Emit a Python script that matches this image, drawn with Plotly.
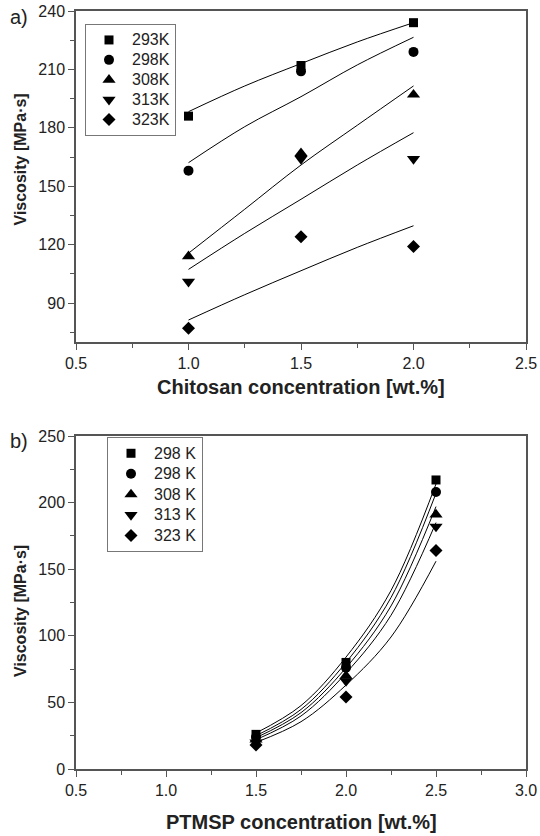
import plotly.graph_objects as go

# ---------------- data: panel a (chitosan) ----------------
conc_a = [1.0, 1.5, 2.0]
labels_a = ["293K", "298K", "308K", "313K", "323K"]
visc_a = [
    [186, 212, 234],
    [158, 209, 219],
    [114, 167, 197],
    [101, 164, 164],
    [77, 124, 119],
]
fit_x_a = [1.0, 1.25, 1.5, 1.75, 2.0]
fit_a = [
    [188.3, 201.5, 213.0, 224.1, 234.0],
    [162.1, 180.6, 196.0, 212.3, 226.5],
    [115.6, 138.2, 160.9, 181.3, 201.5],
    [107.3, 125.8, 143.3, 160.9, 177.5],
    [81.3, 94.3, 106.6, 118.6, 129.7],
]

# ---------------- data: panel b (PTMSP) ----------------
conc_b = [1.5, 2.0, 2.5]
labels_b = ["298 K", "298 K", "308 K", "313 K", "323 K"]
visc_b = [
    [26, 80, 217],
    [24, 76, 208],
    [22, 70, 191],
    [20, 66, 182],
    [18, 54, 164],
]
fit_x_b = [1.5, 1.75, 2.0, 2.25, 2.5]
fit_b = [
    [27.0, 47.6, 84.0, 134.0, 214.0],
    [25.0, 44.7, 80.0, 128.7, 207.0],
    [23.5, 42.3, 76.0, 122.4, 197.0],
    [22.0, 39.8, 72.0, 115.4, 185.0],
    [20.0, 35.5, 63.0, 99.1, 156.0],
]

symbols = ["square", "circle", "triangle-up", "triangle-down", "diamond"]
sizes = [9, 10, 11.5, 11.5, 10]

FONT = "Liberation Sans, Arial, sans-serif"
AX = "#555555"
TXT = "#222222"

fig = go.Figure()

for i in range(5):
    fig.add_trace(go.Scatter(x=fit_x_a, y=fit_a[i], mode="lines", line=dict(color="black", width=1, shape="spline"),
                             showlegend=False, xaxis="x", yaxis="y", hoverinfo="skip"))
    fig.add_trace(go.Scatter(x=fit_x_b, y=fit_b[i], mode="lines", line=dict(color="black", width=1, shape="spline"),
                             showlegend=False, xaxis="x2", yaxis="y2", hoverinfo="skip"))

def leg(t):
    return '<span style="font-size:16px">%s</span>' % t

for i in range(5):
    fig.add_trace(go.Scatter(x=conc_a, y=visc_a[i], mode="markers", name=leg(labels_a[i]),
                             marker=dict(symbol=symbols[i], size=sizes[i], color="black"),
                             xaxis="x", yaxis="y", legend="legend"))
for i in range(5):
    fig.add_trace(go.Scatter(x=conc_b, y=visc_b[i], mode="markers", name=leg(labels_b[i]),
                             marker=dict(symbol=symbols[i], size=sizes[i], color="black"),
                             xaxis="x2", yaxis="y2", legend="legend2"))

xd = [76 / 540, 526 / 540]
ax_common = dict(showline=True, linecolor=AX, linewidth=1.5, mirror=True, showgrid=False, zeroline=False,
                 ticks="outside", ticklen=6, tickwidth=1.2, tickcolor=AX, automargin=False,
                 tickfont=dict(family=FONT, size=16, color=TXT))

fig.update_layout(
    width=540, height=836,
    margin=dict(l=0, r=0, t=0, b=0, autoexpand=False),
    paper_bgcolor="white", plot_bgcolor="white",
    font=dict(family=FONT, color=TXT),
    xaxis=dict(domain=xd, anchor="y", range=[0.5, 2.5], dtick=0.5, tick0=0.5, tickformat=".1f",
               minor=dict(ticks="outside", ticklen=4, dtick=0.25, tickcolor=AX, tickwidth=1.2), **ax_common),
    yaxis=dict(domain=[1 - 342 / 836, 1 - 11 / 836], anchor="x", range=[70, 240], dtick=30, tick0=0,
               minor=dict(ticks="outside", ticklen=4, dtick=15, tickcolor=AX, tickwidth=1.2), **ax_common),
    xaxis2=dict(domain=xd, anchor="y2", range=[0.5, 3.0], dtick=0.5, tick0=0.5, tickformat=".1f",
                minor=dict(ticks="outside", ticklen=4, dtick=0.25, tickcolor=AX, tickwidth=1.2), **ax_common),
    yaxis2=dict(domain=[1 - 769 / 836, 1 - 436 / 836], anchor="x2", range=[0, 250], dtick=50, tick0=0,
                minor=dict(ticks="outside", ticklen=4, dtick=25, tickcolor=AX, tickwidth=1.2), **ax_common),
    legend=dict(x=85 / 540, y=1 - 24 / 836, xanchor="left", yanchor="top", bgcolor="white",
                bordercolor="#777777", borderwidth=1, font=dict(family=FONT, size=13, color=TXT),
                tracegroupgap=0, itemwidth=36),
    legend2=dict(x=107 / 540, y=1 - 437 / 836, xanchor="left", yanchor="top", bgcolor="white",
                 bordercolor="#777777", borderwidth=1, font=dict(family=FONT, size=13.5, color=TXT),
                 tracegroupgap=0, itemwidth=36),
)

ann = [
    dict(text="a)", x=19 / 540, y=1 - 17 / 836, font=dict(size=20)),
    dict(text="b)", x=19 / 540, y=1 - 441 / 836, font=dict(size=20)),
    dict(text="<b>Viscosity [MPa·s]</b>", x=20 / 540, y=1 - 159.5 / 836, textangle=-90, font=dict(size=16)),
    dict(text="<b>Viscosity [MPa·s]</b>", x=20 / 540, y=1 - 611 / 836, textangle=-90, font=dict(size=16)),
    dict(text="<b>Chitosan concentration [wt.%]</b>", x=301 / 540, y=1 - 387 / 836, font=dict(size=20)),
    dict(text="<b>PTMSP concentration [wt.%]</b>", x=301 / 540, y=1 - 822 / 836, font=dict(size=20)),
]
for a in ann:
    a.update(xref="paper", yref="paper", showarrow=False, xanchor="center", yanchor="middle")
    a["font"].update(family=FONT, color=TXT)
    fig.add_annotation(**a)

fig.write_html("out.html", config={"displayModeBar": False},
               post_script="document.body.style.margin='0';")
